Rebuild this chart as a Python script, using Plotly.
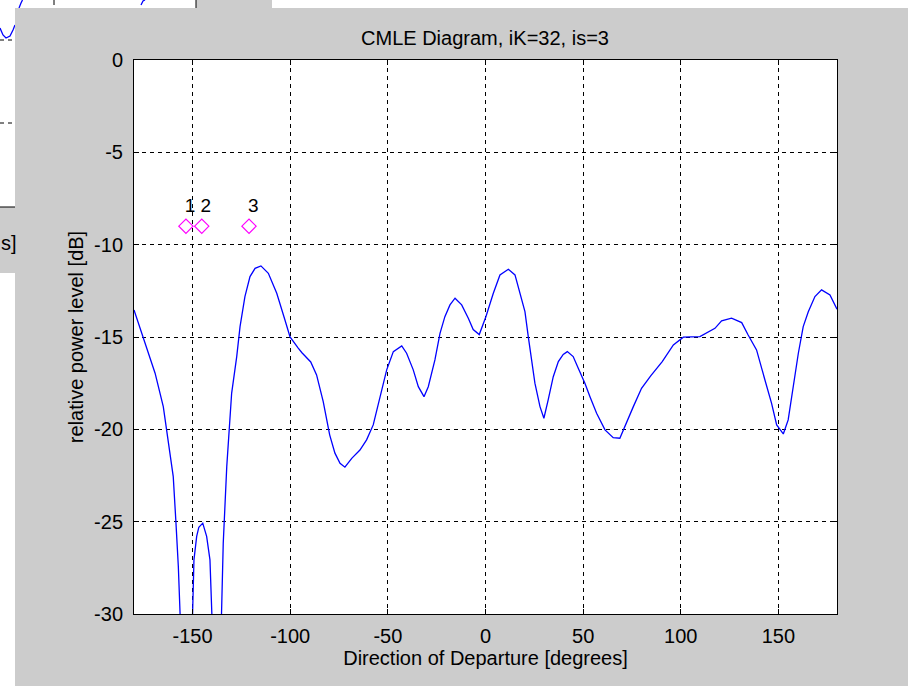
import plotly.graph_objects as go

# ---------------- data ----------------
deg = [-180, -175.2, -169.2, -165, -163.3, -159.9, -158.5, -157.3, -156.4, -155.6, -153, -150.6,
       -150.1, -149.3, -147.9, -146.8, -144.8, -142.8, -141.1, -139.9, -139.3, -137.5, -135.6,
       -135.1, -134.3, -132.5, -131.2, -130, -127.4, -125.7, -123.2, -120.6, -118, -115,
       -111.2, -106.9, -102.7, -100.1, -95.9, -94, -89.5, -86.5, -83.1, -79.8, -77.1, -74.5,
       -72, -68.5, -64.3, -60.9, -57.5, -54.0, -50.6, -47.2, -42.9, -40.4, -37, -34.4, -31.5,
       -29.3, -25.9, -23.3, -20.8, -18.2, -15.6, -12.2, -8.8, -6.3, -3.2, 0.2, 4.0, 7.4, 11.7,
       15.1, 17.6, 20.2, 21.9, 23.6, 25.3, 27.9, 29.9, 32.1, 34.7, 37.3, 39.8, 41.9, 44.9, 47.5,
       50.9, 53.5, 56.9, 61.2, 65.4, 68.8, 72.3, 75.7, 79.9, 84.6, 90.5, 96.2, 101.3, 109.8,
       117.5, 120.9, 126.0, 131.2, 134.5, 138.8, 143.1, 146.5, 149.1, 152.5, 155.0, 157.6,
       160.2, 162.7, 165.3, 168.7, 172.1, 176.4, 180]
level = [-13.54, -15.07, -16.96, -18.77, -20.03, -22.56, -25.08, -27.43, -30.0, -32.5, -40, -32.5,
         -30.0, -27.07, -25.8, -25.3, -25.08, -25.8, -27.07, -30.0, -32.5, -40, -32.5,
         -30.0, -26.17, -22.02, -20.03, -18.05, -16.06, -14.44, -12.81, -11.73, -11.28, -11.15,
         -11.55, -12.63, -14.08, -15.0, -15.6, -15.85, -16.35, -17.05, -18.5, -20.3, -21.29, -21.84,
         -22.05, -21.57, -21.12, -20.57, -19.76, -18.23, -16.78, -15.79, -15.48, -15.88, -16.78, -17.69, -18.23,
         -17.69, -16.24, -14.8, -13.9, -13.26, -12.9, -13.26, -13.98, -14.6, -14.87, -13.9, -12.63, -11.64, -11.33,
         -11.64, -12.63, -13.63, -14.98, -16.24, -17.5, -18.77, -19.4, -18.4, -17.15, -16.33, -15.94, -15.79, -16.06, -16.69,
         -17.5, -18.23, -19.13, -20.03, -20.45, -20.48, -19.58, -18.77, -17.78, -17.1, -16.33, -15.43, -15.01, -14.98,
         -14.53, -14.13, -13.98, -14.22, -14.89, -15.7, -17.33, -18.59, -19.76, -20.25, -19.49, -17.69,
         -15.88, -14.44, -13.63, -12.81, -12.45, -12.72, -13.5]

marker_deg = [-153.4, -145.3, -121.1]
marker_level = [-9, -9, -9]
label_deg = [-151.3, -143.2, -118.9]
label_level = [-7.95, -7.95, -7.95]
labels = ["1", "2", "3"]

xticks = [-150, -100, -50, 0, 50, 100, 150]
yticks = [-30, -25, -20, -15, -10, -5, 0]

# ---------------- geometry helpers ----------------
W, H = 908, 686
L, R, T, B = 134, 837, 60, 614
GRAY = "#cccccc"
FONT = "Liberation Sans, Arial, sans-serif"


def px(x, y):
    return (x - L) / (R - L), (B - y) / (B - T)


def rect(x0, y0, x1, y1, color):
    a, b = px(x0, y0)
    c, d = px(x1, y1)
    return dict(type="rect", xref="paper", yref="paper", x0=a, y0=d, x1=c, y1=b,
                fillcolor=color, line=dict(width=0), layer="below")


def seg(x0, y0, x1, y1, color="black", dash="solid", width=1):
    a, b = px(x0, y0)
    c, d = px(x1, y1)
    return dict(type="line", xref="paper", yref="paper", x0=a, y0=b, x1=c, y1=d,
                line=dict(color=color, width=width, dash=dash), layer="below")


def poly(points, color="#0000ff"):
    p = []
    for i, (x, y) in enumerate(points):
        a, b = px(x, y)
        p.append(("M" if i == 0 else "L") + f"{a},{b}")
    return dict(type="path", xref="paper", yref="paper", path=" ".join(p),
                line=dict(color=color, width=1.3), layer="below")


shapes = [
    # window behind (top-left)
    rect(196, 0, 272, 8, GRAY),
    rect(0, 207, 15, 273, GRAY),
    seg(0, 207, 15, 207),
    seg(196, 0, 196, 8),
    seg(0, 40, 15, 40, dash="4px,4px"),
    seg(0, 123, 15, 123, dash="4px,4px"),
    seg(54, 0, 54, 5),
    poly([(0, 28), (3, 35), (6, 38), (10, 36), (13, 30), (15, 25)]),
    poly([(19, 8), (21, 3), (22.5, 0)]),
    poly([(141, 5), (143, 1), (145, 0)]),
    # foreground figure frame (gray around the axes)
    rect(15, 8, W, T, GRAY),
    rect(15, B, W, H, GRAY),
    rect(15, T, L, B, GRAY),
    rect(R, T, W, B, GRAY),
]

fig = go.Figure()
fig.add_trace(go.Scatter(x=deg, y=level, mode="lines",
                         line=dict(color="#0000ff", width=1.3), hoverinfo="skip"))
fig.add_trace(go.Scatter(x=marker_deg, y=marker_level, mode="markers",
                         marker=dict(symbol="diamond-open", size=11, color="#ff00ff",
                                     line=dict(width=1.2, color="#ff00ff"))))
fig.add_trace(go.Scatter(x=label_deg, y=label_level, mode="text", text=labels,
                         textfont=dict(family=FONT, size=19, color="black")))

axis_common = dict(showline=True, linecolor="black", linewidth=1, mirror="ticks",
                   ticks="inside", ticklen=5, tickcolor="black", tickwidth=1,
                   showgrid=True, gridcolor="black", gridwidth=1, griddash="4px,4px",
                   zeroline=False, tickfont=dict(family=FONT, size=20, color="black"))

fig.update_xaxes(range=[-180, 180], tickvals=xticks, ticktext=[str(v) for v in xticks],
                 title=dict(text="Direction of Departure [degrees]",
                            font=dict(family=FONT, size=20, color="black"), standoff=4),
                 ticklabelstandoff=4, **axis_common)
fig.update_yaxes(range=[-30, 0], tickvals=yticks, ticktext=[str(v) for v in yticks],
                 title=dict(text="relative power level [dB]",
                            font=dict(family=FONT, size=20, color="black"), standoff=5),
                 ticklabelstandoff=6, **axis_common)

fig.update_layout(
    width=W, height=H, autosize=False,
    margin=dict(l=L, r=W - R, t=T, b=H - B, pad=0),
    paper_bgcolor="white", plot_bgcolor="white",
    showlegend=False,
    shapes=shapes,
    title=dict(text="CMLE Diagram, iK=32, is=3", x=485 / W, xanchor="center",
               y=1 - 38 / H, yanchor="middle",
               font=dict(family=FONT, size=20, color="black")),
    annotations=[dict(text="s]", xref="paper", yref="paper",
                      x=px(0, 243)[0], y=px(0, 243)[1], xanchor="left", yanchor="middle",
                      showarrow=False, borderpad=0,
                      font=dict(family=FONT, size=20, color="black"))],
)

fig.write_html("out.html")
